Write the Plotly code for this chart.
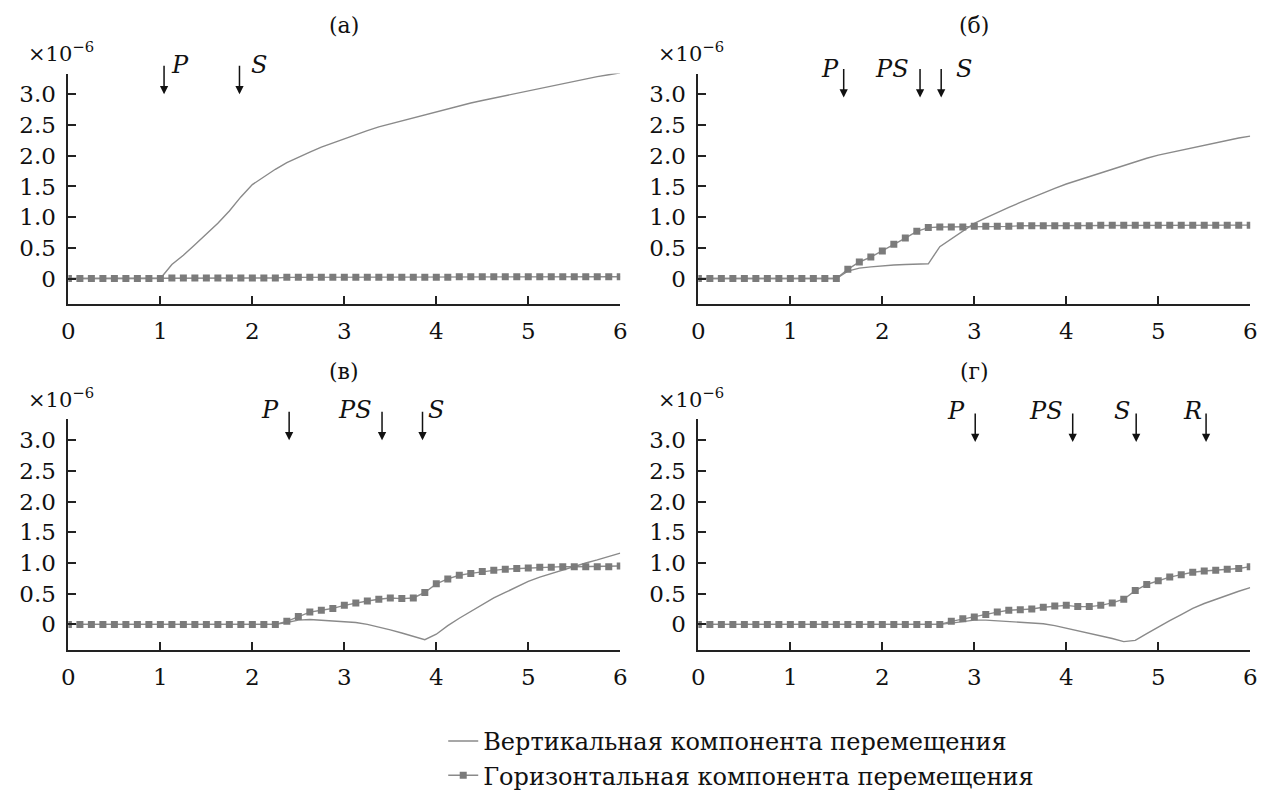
import plotly.graph_objects as go

# ---------------- data ----------------
t = [0.0, 0.125, 0.25, 0.375, 0.5, 0.625, 0.75, 0.875, 1.0, 1.125, 1.25, 1.375,
     1.5, 1.625, 1.75, 1.875, 2.0, 2.125, 2.25, 2.375, 2.5, 2.625, 2.75, 2.875,
     3.0, 3.125, 3.25, 3.375, 3.5, 3.625, 3.75, 3.875, 4.0, 4.125, 4.25, 4.375,
     4.5, 4.625, 4.75, 4.875, 5.0, 5.125, 5.25, 5.375, 5.5, 5.625, 5.75, 5.875, 6.0]

vert_a = [0, 0, 0, 0, 0, 0, 0, 0, 0,
          0.23, 0.38, 0.55, 0.72, 0.90, 1.10, 1.33, 1.53, 1.66, 1.78, 1.89, 1.98,
          2.06, 2.14, 2.21, 2.28, 2.34, 2.41, 2.47, 2.52, 2.57, 2.62, 2.67, 2.72,
          2.77, 2.81, 2.86, 2.90, 2.94, 2.98, 3.02, 3.06, 3.10, 3.14, 3.18, 3.21,
          3.25, 3.29, 3.32, 3.35]
horiz_a = [0, 0, 0, 0, 0, 0, 0, 0, 0,
           0.01, 0.01, 0.01, 0.01, 0.01, 0.01, 0.01, 0.01, 0.01, 0.01,
           0.02, 0.02, 0.02, 0.02, 0.02, 0.02, 0.02, 0.02, 0.02, 0.02, 0.02, 0.02,
           0.02, 0.02, 0.02,
           0.03, 0.03, 0.03, 0.03, 0.03, 0.03, 0.03, 0.03, 0.03, 0.03, 0.03, 0.03,
           0.03, 0.03, 0.03]

vert_b = [0, 0, 0, 0, 0, 0, 0, 0, 0, 0, 0, 0, 0,
          0.12, 0.17, 0.19, 0.21, 0.22, 0.23, 0.23, 0.24,
          0.52, 0.65, 0.78, 0.90, 0.99, 1.08, 1.16, 1.24, 1.32, 1.40, 1.47, 1.54,
          1.60, 1.67, 1.73, 1.79, 1.85, 1.90, 1.96, 2.01, 2.05, 2.10, 2.14, 2.18,
          2.22, 2.25, 2.29, 2.32]
horiz_b = [0, 0, 0, 0, 0, 0, 0, 0, 0, 0, 0, 0, 0,
           0.15, 0.27, 0.35, 0.45, 0.56, 0.66, 0.77, 0.83,
           0.84, 0.84, 0.84, 0.85, 0.85, 0.85, 0.85, 0.86, 0.86, 0.86, 0.86, 0.86,
           0.86, 0.86, 0.87, 0.87, 0.87, 0.87, 0.87, 0.87, 0.87, 0.87, 0.87, 0.87,
           0.87, 0.87, 0.87, 0.87]

vert_c = [0, 0, 0, 0, 0, 0, 0, 0, 0, 0, 0, 0, 0, 0, 0, 0, 0, 0, 0,
          0.03, 0.07, 0.08, 0.07, 0.06, 0.05, 0.03, 0.00, -0.04, -0.09, -0.14,
          -0.19, -0.25, -0.16, -0.02, 0.10, 0.21, 0.32, 0.43, 0.52, 0.61, 0.70,
          0.77, 0.83, 0.89, 0.95, 1.00, 1.05, 1.10, 1.16]
horiz_c = [0, 0, 0, 0, 0, 0, 0, 0, 0, 0, 0, 0, 0, 0, 0, 0, 0, 0, 0,
           0.05, 0.13, 0.20, 0.23, 0.26, 0.31, 0.35, 0.38, 0.41, 0.43, 0.42,
           0.43, 0.52, 0.66, 0.74, 0.80, 0.83, 0.86, 0.88, 0.90, 0.91, 0.92,
           0.93, 0.93, 0.94, 0.94, 0.94, 0.94, 0.94, 0.95]

vert_d = [0, 0, 0, 0, 0, 0, 0, 0, 0, 0, 0, 0, 0, 0, 0, 0, 0, 0, 0, 0, 0, 0,
          0.02, 0.05, 0.07, 0.07, 0.06, 0.05, 0.04, 0.03, 0.01, -0.02, -0.06,
          -0.11, -0.15, -0.19, -0.23, -0.28, -0.26, -0.15, -0.04, 0.06, 0.16,
          0.26, 0.34, 0.41, 0.47, 0.54, 0.60]
horiz_d = [0, 0, 0, 0, 0, 0, 0, 0, 0, 0, 0, 0, 0, 0, 0, 0, 0, 0, 0, 0, 0, 0,
           0.05, 0.09, 0.12, 0.16, 0.20, 0.23, 0.24, 0.25, 0.28, 0.30, 0.31,
           0.29, 0.29, 0.31, 0.35, 0.41, 0.55, 0.65, 0.71, 0.77, 0.81, 0.85,
           0.87, 0.88, 0.90, 0.91, 0.94]

panel_titles = ["(а)", "(б)", "(в)", "(г)"]
x_ticks = [0, 1, 2, 3, 4, 5, 6]
y_tickvals = [0, 0.5, 1.0, 1.5, 2.0, 2.5, 3.0]
y_ticktext = ["0", "0.5", "1.0", "1.5", "2.0", "2.5", "3.0"]

# wave arrivals per panel: (label, arrival time, label time)
arrivals_a = [("P", 1.04, 1.21), ("S", 1.86, 2.07)]
arrivals_b = [("P", 1.58, 1.43), ("PS", 2.41, 2.10), ("S", 2.64, 2.89)]
arrivals_c = [("P", 2.40, 2.19), ("PS", 3.41, 3.12), ("S", 3.85, 4.00)]
arrivals_d = [("P", 3.01, 2.80), ("PS", 4.07, 3.78), ("S", 4.76, 4.61), ("R", 5.52, 5.37)]

name_v = "Вертикальная компонента перемещения"
name_h = "Горизонтальная компонента перемещения"

# ---------------- layout geometry (px) ----------------
W, H = 1269, 790
FONT = "DejaVu Serif"
LINE_C = "#8a8a8a"
MARK_C = "#7b7b7b"
Y_RANGE = [-0.41, 3.34]

panels = [
    dict(v=vert_a, h=horiz_a, arr=arrivals_a, tip=3.0, lab=3.48, xs=(54, 612), ys=(68, 307)),
    dict(v=vert_b, h=horiz_b, arr=arrivals_b, tip=2.95, lab=3.42, xs=(691, 1249), ys=(68, 307)),
    dict(v=vert_c, h=horiz_c, arr=arrivals_c, tip=3.0, lab=3.5, xs=(54, 612), ys=(427, 666)),
    dict(v=vert_d, h=horiz_d, arr=arrivals_d, tip=2.97, lab=3.47, xs=(691, 1249), ys=(427, 666)),
]

fig = go.Figure()
annotations = []

for i, p in enumerate(panels):
    n = "" if i == 0 else str(i + 1)
    xa, ya = "x" + n, "y" + n
    fig.add_trace(go.Scatter(
        x=t, y=p["v"], mode="lines", name=name_v,
        line=dict(color=LINE_C, width=1.4),
        xaxis=xa, yaxis=ya, showlegend=(i == 0), legendrank=1))
    fig.add_trace(go.Scatter(
        x=t, y=p["h"], mode="lines+markers", name=name_h,
        line=dict(color=LINE_C, width=1.4),
        marker=dict(symbol="square", size=7, color=MARK_C),
        xaxis=xa, yaxis=ya, showlegend=(i == 0), legendrank=2))

    x0, x1 = p["xs"]
    y0, y1 = p["ys"]
    axis_common = dict(showgrid=False, zeroline=False, showline=True,
                       linecolor="#222", linewidth=1.8, ticks="inside",
                       ticklen=8, tickwidth=1.6, tickcolor="#222",
                       tickfont=dict(family=FONT, size=23, color="#111"))
    fig.layout["xaxis" + n] = dict(
        domain=[x0 / W, x1 / W], anchor=ya, range=[0, 6],
        tickvals=x_ticks, ticklabelstandoff=6, **axis_common)
    fig.layout["yaxis" + n] = dict(
        domain=[1 - y1 / H, 1 - y0 / H], anchor=xa, range=Y_RANGE,
        tickvals=y_tickvals, ticktext=y_ticktext, ticklabelstandoff=6,
        **axis_common)

    # panel title
    annotations.append(dict(
        text=panel_titles[i], xref="paper", yref="paper",
        x=(x0 + x1) / 2 / W, y=1 - (y0 - 50) / H,
        showarrow=False, font=dict(family=FONT, size=22, color="#111"),
        xanchor="center", yanchor="middle"))
    # exponent label
    annotations.append(dict(
        text="×10<sup>−6</sup>", xref="paper", yref="paper",
        x=(x0 - 43) / W, y=1 - (y0 - 22) / H,
        showarrow=False, font=dict(family=FONT, size=21, color="#111"),
        xanchor="left", yanchor="middle"))
    # arrivals
    span = Y_RANGE[1] - Y_RANGE[0]
    for lab, ta, tl in p["arr"]:
        annotations.append(dict(
            text="", x=ta, y=p["tip"], xref=xa, yref=ya,
            showarrow=True, ax=0, ay=-30, arrowhead=2, arrowsize=1.1,
            arrowwidth=1.5, arrowcolor="#111"))
        annotations.append(dict(
            text="<i>" + lab + "</i>", x=tl,
            y=(p["lab"] - Y_RANGE[0]) / span,
            xref=xa, yref=ya + " domain",
            showarrow=False, font=dict(family=FONT, size=24, color="#111"),
            xanchor="center", yanchor="middle"))

fig.update_layout(
    width=W, height=H,
    margin=dict(l=0, r=0, t=0, b=0),
    paper_bgcolor="white", plot_bgcolor="white",
    annotations=annotations,
    legend=dict(x=433 / W, y=1 - 738 / H, xanchor="left", yanchor="top",
                font=dict(family=FONT, size=24, color="#111"),
                bgcolor="rgba(0,0,0,0)", borderwidth=0, tracegroupgap=0),
)

fig.write_html("out.html")
